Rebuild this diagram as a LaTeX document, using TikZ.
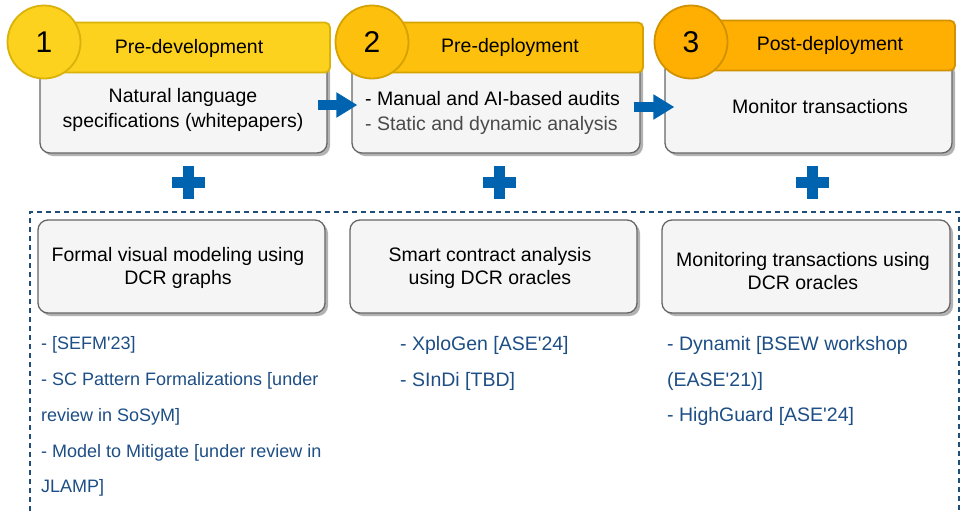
\documentclass[tikz,border=0pt]{standalone}
\usepackage{fontspec}
\setmainfont{Liberation Sans}
\usetikzlibrary{shadows,arrows.meta}
\definecolor{yA}{HTML}{FCD21E}
\definecolor{yAb}{HTML}{D9B20A}
\definecolor{yB}{HTML}{FDC00C}
\definecolor{yBb}{HTML}{D6A200}
\definecolor{yC}{HTML}{FEAF02}
\definecolor{yCb}{HTML}{D19100}
\definecolor{bodyfill}{HTML}{F5F5F5}
\definecolor{bodyline}{HTML}{666666}
\definecolor{arrowblue}{HTML}{0063B0}
\definecolor{listblue}{HTML}{1D4E85}
\definecolor{dashblue}{HTML}{1F4E79}
\definecolor{graytext}{HTML}{4A4A4A}
\newcommand{\apos}{\textquotesingle}
\tikzset{
  bodybox/.style={draw=bodyline, fill=bodyfill, line width=1.3pt, rounded corners=10pt,
    minimum width=#1, minimum height=93pt, inner sep=0pt,
    drop shadow={shadow xshift=3pt, shadow yshift=-3pt, fill=black!30, opacity=1}},
  headbox/.style={line width=1.8pt, rounded corners=5pt, minimum height=50pt, inner sep=0pt},
  numcirc/.style={circle, line width=1.8pt, minimum size=73pt, inner sep=0pt,
    font=\fontsize{30}{30}\selectfont},
  boxtext/.style={align=center, font=\fontsize{19.5}{24.5}\selectfont, inner sep=0pt},
  listtext/.style={anchor=west, text=listblue, font=\fontsize{18}{18}\selectfont, inner sep=0pt},
  listbig/.style={listtext, font=\fontsize{19.5}{19.5}\selectfont},
  bluearrow/.style={draw=arrowblue, line width=10pt, -{Triangle[length=21pt,width=24pt]}},
  plusbar/.style={fill=arrowblue}
}
\begin{document}
\begin{tikzpicture}[x=1pt,y=-1pt]
\useasboundingbox (0,0) rectangle (962,512);
% bodies
\node[bodybox=287pt] (b1) at (183.5,106.5) {};
\node[bodybox=288pt] (b2) at (496,106.5) {};
\node[bodybox=287pt] (b3) at (808.5,106.5) {};
% arrows
\draw[bluearrow] ([xshift=-10pt,yshift=1.5pt]b1.east) -- ([xshift=6pt,yshift=1.5pt]b2.west);
\draw[bluearrow] ([xshift=-7pt,yshift=-0.5pt]b2.east) -- ([xshift=10pt,yshift=-0.5pt]b3.west);
% headers
\node[headbox, draw=yAb, fill=yA, minimum width=290pt] (h1) at (185,47.5) {};
\node[headbox, draw=yBb, fill=yB, minimum width=288pt] (h2) at (499,47.5) {};
\node[headbox, draw=yCb, fill=yC, minimum width=280pt] (h3) at (815,45.5) {};
\node[numcirc, draw=yAb, fill=yA] (c1) at (44,42) {1};
\node[numcirc, draw=yBb, fill=yB] (c2) at (372,42) {2};
\node[numcirc, draw=yCb, fill=yC] (c3) at (691,42) {3};
\node[boxtext] (t1) at (189,48) {Pre-development};
\node[boxtext] (t2) at (510,47) {Pre-deployment};
\node[boxtext] (t3) at (830,45) {Post-deployment};
% body texts
\node[boxtext] (bt1) at (183,110) {Natural language\\specifications (whitepapers)};
\node[boxtext, align=left, anchor=west] (bt2) at (365,113) {- Manual and AI-based audits\\\textcolor{graytext}{- Static and dynamic analysis}};
\node[boxtext] (bt3) at (820,107) {Monitor transactions};
% plus signs
\foreach \px/\nm in {188/p1, 499/p2, 812/p3}{
  \coordinate (\nm) at (\px,182);
  \fill[plusbar] ([xshift=-16.5pt,yshift=-5.5pt]\nm) rectangle ([xshift=16.5pt,yshift=5.5pt]\nm);
  \fill[plusbar] ([xshift=-5.5pt,yshift=-16.5pt]\nm) rectangle ([xshift=5.5pt,yshift=16.5pt]\nm);
}
% dashed frame
\draw[dashblue, line width=1.2pt, dash pattern=on 5pt off 4pt] (30,520) -- (30,212) -- (959,212) -- (959,520);
% lower boxes
\node[bodybox=287pt] (d1) at (181.5,266.5) {};
\node[bodybox=287pt] (d2) at (493.5,266.5) {};
\node[bodybox=288pt] (d3) at (806,266.5) {};
\node[boxtext, font=\fontsize{19.5}{22.5}\selectfont] (dt1) at (178,268) {Formal visual modeling using\\DCR graphs};
\node[boxtext, font=\fontsize{19.5}{22.5}\selectfont] (dt2) at (490,268) {Smart contract analysis\\using DCR oracles};
\node[boxtext, font=\fontsize{19.5}{23.5}\selectfont] (dt3) at (803,271) {Monitoring transactions using\\DCR oracles};
% lists
\node[listtext] (la1) at (41,345) {- [SEFM\apos 23]};
\node[listtext] (la2) at (41,381) {- SC Pattern Formalizations [under};
\node[listtext] (la3) at (41,417) {review in SoSyM]};
\node[listtext] (la4) at (41,453) {- Model to Mitigate [under review in};
\node[listtext] (la5) at (41,488) {JLAMP]};
\node[listbig] (lb1) at (400,345) {- XploGen [ASE\apos 24]};
\node[listbig] (lb2) at (400,381) {- SInDi [TBD]};
\node[listbig] (lc1) at (667,345) {- Dynamit [BSEW workshop};
\node[listbig] (lc2) at (667,381) {(EASE\apos 21)]};
\node[listbig] (lc3) at (667,416) {- HighGuard [ASE\apos 24]};
\end{tikzpicture}
\end{document}
